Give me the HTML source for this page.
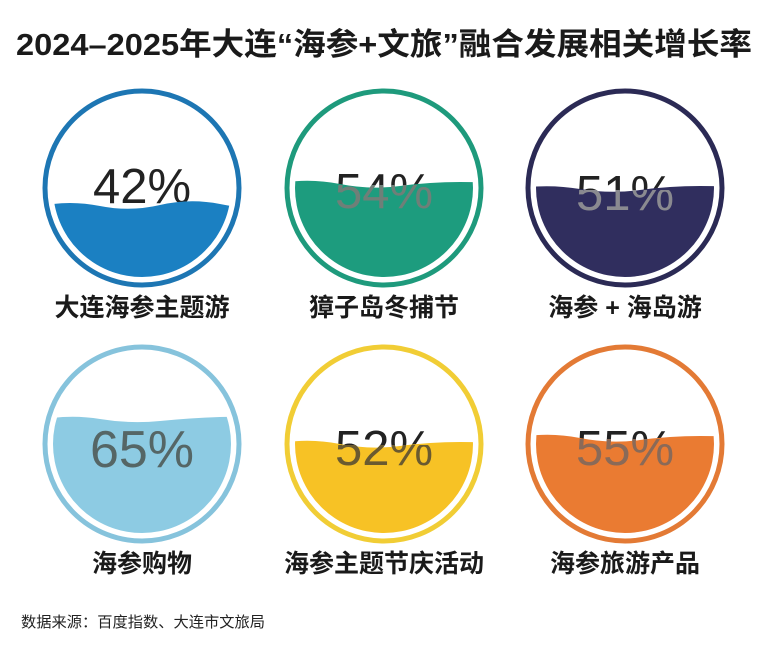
<!DOCTYPE html>
<html><head><meta charset="utf-8"><style>
html,body{margin:0;padding:0;background:#fff;}
svg{display:block}
.t{font-family:"Liberation Sans","Noto Sans CJK SC",sans-serif;}
.c{font-family:"Liberation Sans","Noto Sans CJK SC",sans-serif;}
</style></head><body>
<svg width="767" height="652" viewBox="0 0 767 652" xmlns="http://www.w3.org/2000/svg">
<rect width="767" height="652" fill="#fff"/>
<text x="16" y="55" font-size="31" font-weight="bold" fill="#1a1a1a" class="t" textLength="736" lengthAdjust="spacingAndGlyphs">2024–2025年大连“海参+文旅”融合发展相关增长率</text>
<defs>
<clipPath id="c1"><circle cx="142" cy="188" r="89"/></clipPath>
<clipPath id="c2"><circle cx="384" cy="188" r="89"/></clipPath>
<clipPath id="c3"><circle cx="625" cy="188" r="89"/></clipPath>
<clipPath id="c4"><circle cx="142" cy="444" r="89"/></clipPath>
<clipPath id="c5"><circle cx="384" cy="444" r="89"/></clipPath>
<clipPath id="c6"><circle cx="625" cy="444" r="89"/></clipPath>
<clipPath id="w2"><rect x="280" y="185" width="220" height="60"/></clipPath>
<clipPath id="w3"><rect x="520" y="190" width="220" height="60"/></clipPath>
<clipPath id="w5"><rect x="280" y="445" width="220" height="60"/></clipPath>
<clipPath id="w6"><rect x="520" y="439" width="220" height="60"/></clipPath>
</defs>
<g>
<circle cx="142" cy="188" r="97" fill="none" stroke="#1d76b3" stroke-width="5"/>
<text x="142" y="203" text-anchor="middle" font-size="49" fill="#222" class="c">42%</text>
<path clip-path="url(#c1)" d="M40 206 Q70 200 100 206 T160 205 T220 204 T260 206 L260 300 L40 300Z" fill="#1b80c2"/>
</g>
<g>
<circle cx="384" cy="188" r="97" fill="none" stroke="#1e9a7c" stroke-width="5"/>
<text x="384" y="208" text-anchor="middle" font-size="49" fill="#222" class="c">54%</text>
<path clip-path="url(#c2)" d="M280 183 Q310 178 340 184 T400 186 T460 182 T500 184 L500 300 L280 300Z" fill="#1d9c7e"/>
<text clip-path="url(#w2)" x="384" y="208" text-anchor="middle" font-size="49" fill="#6f7f78" class="c">54%</text>
</g>
<g>
<circle cx="625" cy="188" r="97" fill="none" stroke="#2b2a55" stroke-width="5"/>
<text x="625" y="210" text-anchor="middle" font-size="49" fill="#222" class="c">51%</text>
<path clip-path="url(#c3)" d="M520 188 Q550 184 580 189 T640 190 T700 186 T740 188 L740 300 L520 300Z" fill="#302e5e"/>
<text clip-path="url(#w3)" x="625" y="210" text-anchor="middle" font-size="49" fill="#8a8a90" class="c">51%</text>
</g>
<g>
<circle cx="142" cy="444" r="97" fill="none" stroke="#86c3dc" stroke-width="5"/>
<path clip-path="url(#c4)" d="M40 420 Q70 414 100 419 T160 421 T220 417 T260 419 L260 560 L40 560Z" fill="#8dcbe3"/>
<text x="142" y="467" text-anchor="middle" font-size="52" fill="#566" class="c">65%</text>
</g>
<g>
<circle cx="384" cy="444" r="97" fill="none" stroke="#f1cd35" stroke-width="5"/>
<text x="384" y="465" text-anchor="middle" font-size="49" fill="#222" class="c">52%</text>
<path clip-path="url(#c5)" d="M280 443 Q310 438 340 444 T400 446 T460 442 T500 444 L500 560 L280 560Z" fill="#f7c225"/>
<text clip-path="url(#w5)" x="384" y="465" text-anchor="middle" font-size="49" fill="#6a5a30" class="c">52%</text>
</g>
<g>
<circle cx="625" cy="444" r="97" fill="none" stroke="#e37a35" stroke-width="5"/>
<text x="625" y="465" text-anchor="middle" font-size="49" fill="#222" class="c">55%</text>
<path clip-path="url(#c6)" d="M520 437 Q550 432 580 438 T640 440 T700 436 T740 438 L740 560 L520 560Z" fill="#ea7b32"/>
<text clip-path="url(#w6)" x="625" y="465" text-anchor="middle" font-size="49" fill="#8a6a58" class="c">55%</text>
</g>
<g class="t" font-size="25" font-weight="bold" fill="#1a1a1a" text-anchor="middle">
<text x="142" y="316">大连海参主题游</text>
<text x="384" y="316">獐子岛冬捕节</text>
<text x="625" y="316">海参 + 海岛游</text>
<text x="142" y="572">海参购物</text>
<text x="384" y="572">海参主题节庆活动</text>
<text x="625" y="572">海参旅游产品</text>
</g>
<text x="21" y="627" font-size="15" fill="#222" class="t" textLength="244" lengthAdjust="spacingAndGlyphs">数据来源：百度指数、大连市文旅局</text>
</svg>
</body></html>
